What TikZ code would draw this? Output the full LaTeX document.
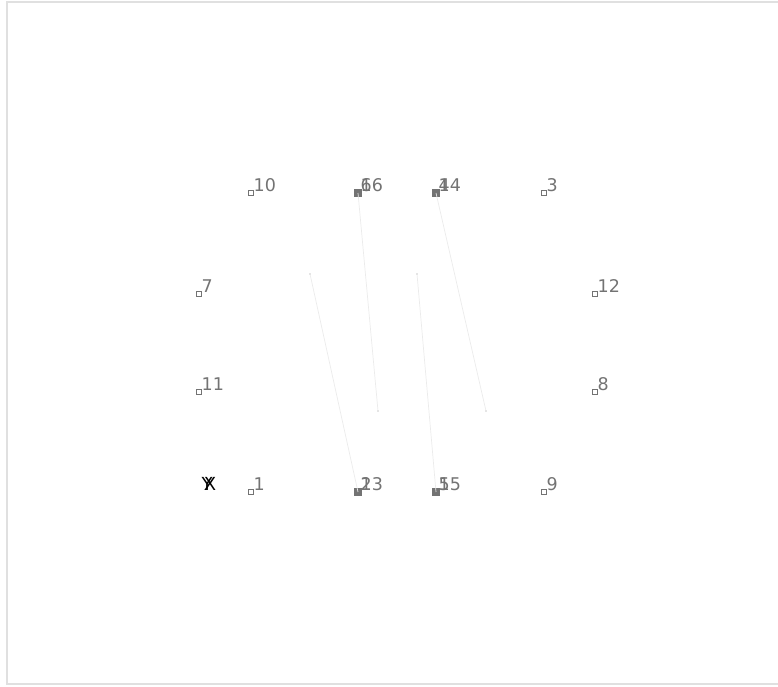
\documentclass[tikz,border=0pt]{standalone}
\usepackage{fontspec}
\setmainfont{DejaVu Sans}
\begin{document}
\begin{tikzpicture}[x=1pt,y=-1pt,
  vtx/.style={draw=black!55, fill=white, minimum size=5pt, inner sep=0pt, line width=0.9pt},
  vtxd/.style={vtx, fill=black!55, minimum size=7pt},
  lbl/.style={anchor=base west, text=black!55, font=\fontsize{17.5}{17.5}\selectfont, inner sep=0pt},
  axlbl/.style={anchor=base, font=\fontsize{18}{18}\selectfont, inner sep=0pt},
  link/.style={draw=black!8, line width=0.7pt},
  tip/.style={fill=black!10, minimum size=2pt, inner sep=0pt}]
\useasboundingbox (0,0) rectangle (778,687);
% frame
\draw[black!12, line width=1.5pt] (780,2) -- (7,2) -- (7,684) -- (780,684);
% single vertices
\foreach \n/\x/\y in {10/251/193, 3/544/193, 7/199/294, 12/595/294,
  11/199/392, 8/595/392, 1/251/492, 9/544/492}
{
  \node[vtx] (v\n) at (\x,\y) {};
  \node[lbl] (t\n) at (\x+2.5,\y-1.5) {\n};
}
% stacked vertices
\foreach \n/\x/\y in {6/358/193, 16/358/193, 4/436/193, 14/436/193,
  2/358/492, 13/358/492, 5/436/492, 15/436/492}
{
  \node[vtxd] (v\n) at (\x,\y) {};
  \node[lbl] (t\n) at (\x+2.5,\y-1.5) {\n};
}
% axis letters
\node[axlbl] (ly) at (207,490) {Y};
\node[axlbl] (lx) at (210,490) {X};
% free ends
\node[tip] (a) at (378,411) {};
\node[tip] (b) at (486,411) {};
\node[tip] (c) at (310,274) {};
\node[tip] (d) at (417,274) {};
\draw[link] (v6.center) -- (a);
\draw[link] (v4.center) -- (b);
\draw[link] (c) -- (v2.center);
\draw[link] (d) -- (v5.center);
\end{tikzpicture}
\end{document}
